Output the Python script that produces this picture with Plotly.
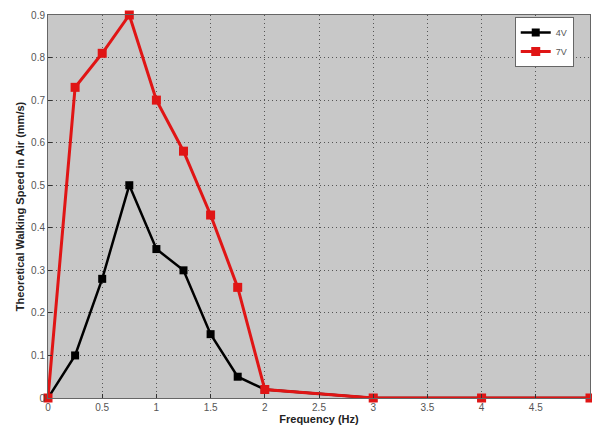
import plotly.graph_objects as go

freq = [0, 0.25, 0.5, 0.75, 1, 1.25, 1.5, 1.75, 2, 3, 4, 5]
v4 = [0, 0.10, 0.28, 0.50, 0.35, 0.30, 0.15, 0.05, 0.02, 0, 0, 0]
v7 = [0, 0.73, 0.81, 0.90, 0.70, 0.58, 0.43, 0.26, 0.02, 0, 0, 0]
x_ticks = [0, 0.5, 1, 1.5, 2, 2.5, 3, 3.5, 4, 4.5, 5]
x_tick_text = ["0", "0.5", "1", "1.5", "2", "2.5", "3", "3.5", "4", "4.5", "5"]
y_ticks = [0, 0.1, 0.2, 0.3, 0.4, 0.5, 0.6, 0.7, 0.8, 0.9]
y_tick_text = ["0", "0.1", "0.2", "0.3", "0.4", "0.5", "0.6", "0.7", "0.8", "0.9"]

fig = go.Figure()
fig.add_trace(go.Scatter(x=freq, y=v4, name="4V", mode="lines+markers",
                         line=dict(color="#000000", width=2.5),
                         marker=dict(symbol="square", size=8, color="#000000"),
                         cliponaxis=False))
fig.add_trace(go.Scatter(x=freq, y=v7, name="7V", mode="lines+markers",
                         line=dict(color="#e01515", width=3),
                         marker=dict(symbol="square", size=9, color="#e01515"),
                         cliponaxis=False))

axis_common = dict(showgrid=True, gridcolor="#555555", griddash="1px,3px", gridwidth=1,
                   zeroline=False, ticks="inside", ticklen=4, tickcolor="#333333",
                   showline=True, linecolor="#666666", mirror=True, automargin=False,
                   tickfont=dict(family="Liberation Sans, Arial", size=10, color="#555555"))

fig.update_layout(
    width=592, height=426,
    margin=dict(l=48, r=2, t=15, b=28),
    paper_bgcolor="white", plot_bgcolor="#c8c8c8",
    showlegend=True,
    legend=dict(x=0.97, y=0.995, xanchor="right", yanchor="top",
                bgcolor="white", bordercolor="#666666", borderwidth=1,
                font=dict(family="Liberation Sans, Arial", size=9, color="#555555"),
                itemwidth=30, tracegroupgap=0),
    xaxis=dict(range=[0, 5], tickvals=x_ticks, ticktext=x_tick_text,
               title=dict(text="<b>Frequency (Hz)</b>", standoff=0,
                          font=dict(family="Liberation Sans, Arial", size=11, color="#222222")),
               **axis_common),
    yaxis=dict(range=[0, 0.9], tickvals=y_ticks, ticktext=y_tick_text,
               title=dict(text="<b>Theoretical Walking Speed in Air (mm/s)</b>", standoff=4,
                          font=dict(family="Liberation Sans, Arial", size=11, color="#222222")),
               **axis_common),
)

fig.write_html("out.html", config={"displayModeBar": False},
               post_script="document.body.style.margin='0';document.body.style.padding='0';")
